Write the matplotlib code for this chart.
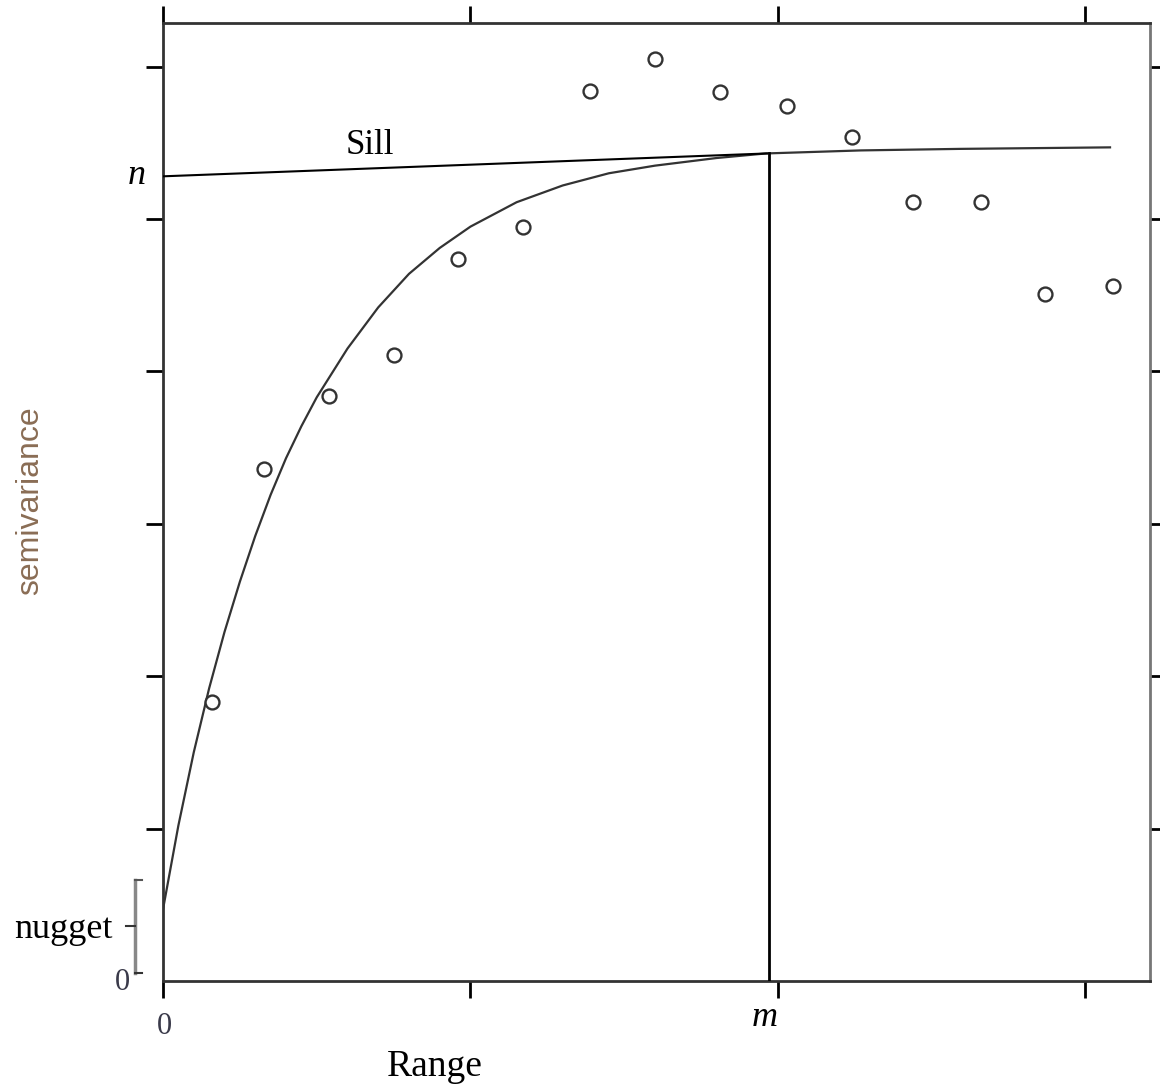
import matplotlib.pyplot as plt

plt.switch_backend('Agg')

# observed semivariance points (lag, semivariance)
lag = [0.16, 0.33, 0.54, 0.75, 0.96, 1.17, 1.39, 1.60, 1.81, 2.03, 2.24, 2.44, 2.66, 2.87, 3.09]
semivar = [1.83, 3.36, 3.84, 4.11, 4.74, 4.95, 5.84, 6.05, 5.83, 5.74, 5.54, 5.11, 5.11, 4.51, 4.56]

# fitted model curve
curve_x = [0.0, 0.05, 0.10, 0.15, 0.20, 0.25, 0.30, 0.35, 0.40, 0.45, 0.50,
           0.60, 0.70, 0.80, 0.90, 1.00, 1.15, 1.30, 1.45, 1.60, 1.80, 1.96,
           2.27, 2.59, 3.08]
curve_y = [0.47, 1.02, 1.50, 1.92, 2.29, 2.62, 2.92, 3.19, 3.43, 3.64, 3.83,
           4.15, 4.42, 4.64, 4.81, 4.95, 5.11, 5.22, 5.30, 5.35, 5.40, 5.43,
           5.45, 5.46, 5.47]

# sill line and range marker
sill_x = [0.0, 1.964]
sill_y = [5.28, 5.43]
range_x = 1.971
range_top = 5.43

# nugget bracket (bottom, middle, top)
nugget_lo, nugget_mid, nugget_hi = 0.05, 0.36, 0.66

W, H = 1160, 1091
fig = plt.figure(figsize=(W / 100, H / 100), dpi=100)
ax = fig.add_axes([163 / W, 1 - 981 / H, (1150 - 163) / W, (981 - 22.7) / H])

ax.plot(curve_x, curve_y, color='#333333', lw=1.6, zorder=2, solid_joinstyle='round')
ax.plot(sill_x, sill_y, color='black', lw=1.5, zorder=3)
ax.plot([range_x, range_x], [0, range_top], color='black', lw=2, zorder=3)
ax.plot(lag, semivar, 'o', ms=10, mfc='white', mec='#333333', mew=1.7, zorder=4)

ax.set_xlim(0, 3.21)
ax.set_ylim(0, 6.288)
ax.set_xticks([0, 1, 2, 3])
ax.set_yticks([1, 2, 3, 4, 5, 6])
ax.set_xticklabels([])
ax.set_yticklabels([])
ax.tick_params(direction='out', length=12, width=2, top=True, right=True)
for t in ax.xaxis.get_major_ticks():
    t.tick1line.set_color('#888888')
    t.tick2line.set_color('black')
for t in ax.yaxis.get_major_ticks():
    t.tick1line.set_color('#777777')
    t.tick2line.set_color('#777777')

for side in ['left', 'bottom', 'top']:
    ax.spines[side].set_color('#333333')
    ax.spines[side].set_linewidth(2)
ax.spines['right'].set_color('#777777')
ax.spines['right'].set_linewidth(2)

# nugget bracket
bx = -0.091
ax.plot([bx, bx], [nugget_lo, nugget_hi], color='#888888', lw=2.5, clip_on=False)
ax.plot([bx, bx + 0.022], [nugget_hi, nugget_hi], color='#555555', lw=1.5, clip_on=False)
ax.plot([bx, bx + 0.022], [nugget_lo, nugget_lo], color='#333333', lw=1.5, clip_on=False)
ax.plot([bx - 0.028, bx], [nugget_mid, nugget_mid], color='#333333', lw=1.5, clip_on=False)


def px(x, y):
    return x / W, 1 - y / H


serif = ['Liberation Serif', 'DejaVu Serif']
fig.text(*px(370, 145), 'Sill', family=serif, fontsize=25, ha='center', va='center')
fig.text(*px(435, 1067), 'Range', family=serif, fontsize=27, ha='center', va='center')
fig.text(*px(63, 930), 'nugget', family=serif, fontsize=26, ha='center', va='center')
fig.text(*px(137, 176), 'n', family=serif, style='italic', fontsize=26, ha='center', va='center')
fig.text(*px(765, 1017), 'm', family=serif, style='italic', fontsize=26, ha='center', va='center')
fig.text(*px(164, 1027), '0', family=serif, fontsize=22, color='#3a3a4a', ha='center', va='center')
fig.text(*px(122, 982), '0', family=serif, fontsize=22, color='#3a3a4a', ha='center', va='center')
fig.text(*px(30, 501), 'semivariance', family=['Liberation Sans', 'DejaVu Sans'],
         fontsize=23, color='#8a6d55', rotation=90, ha='center', va='center')

fig.savefig('out.png', dpi=100)
